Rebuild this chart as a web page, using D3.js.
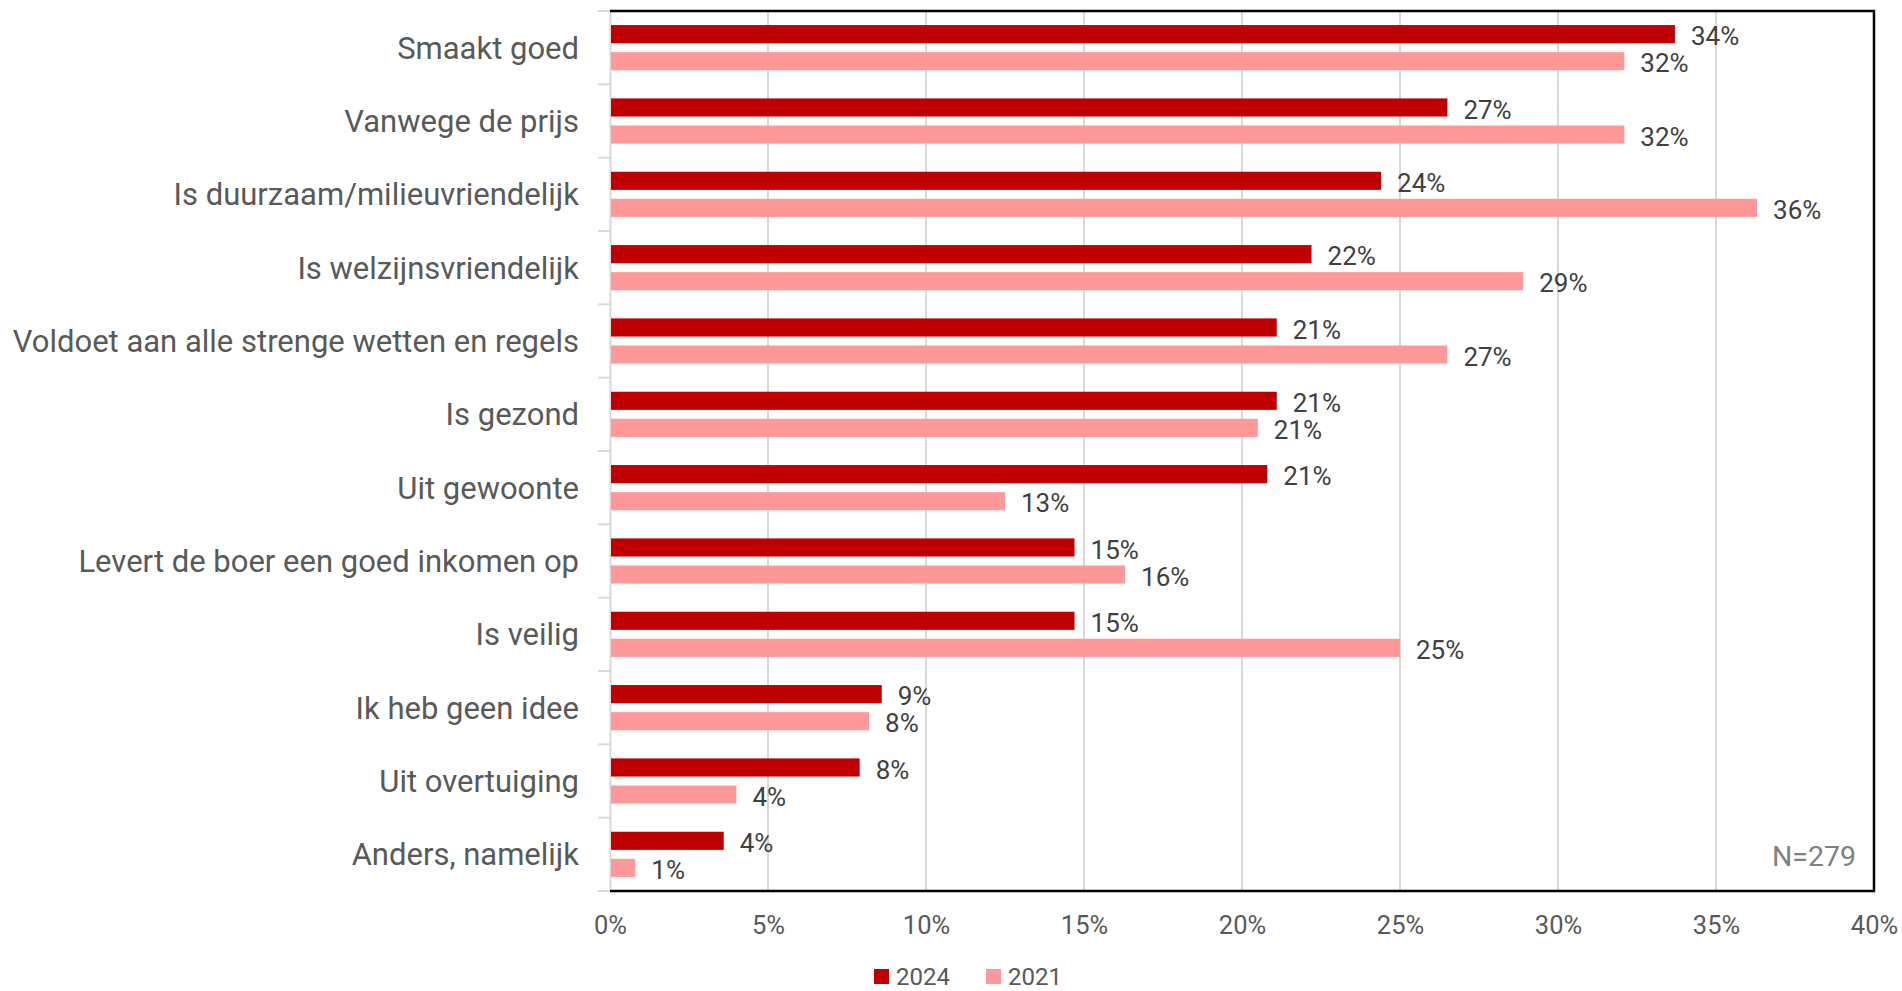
<!DOCTYPE html>
<html>
<head>
<meta charset="utf-8">
<script src="https://cdn.jsdelivr.net/npm/d3@7"></script>
<style>
html,body{margin:0;padding:0;background:#fff;}
svg{display:block;font-family:Roboto, "Noto Sans", sans-serif;}
</style>
</head>
<body>
<svg id="chart" width="1902" height="991"></svg>
<script>
const categories = [
  "Smaakt goed",
  "Vanwege de prijs",
  "Is duurzaam/milieuvriendelijk",
  "Is welzijnsvriendelijk",
  "Voldoet aan alle strenge wetten en regels",
  "Is gezond",
  "Uit gewoonte",
  "Levert de boer een goed inkomen op",
  "Is veilig",
  "Ik heb geen idee",
  "Uit overtuiging",
  "Anders, namelijk"
];
const values2024 = [33.7, 26.5, 24.4, 22.2, 21.1, 21.1, 20.8, 14.7, 14.7, 8.6, 7.9, 3.6];
const values2021 = [32.1, 32.1, 36.3, 28.9, 26.5, 20.5, 12.5, 16.3, 25.0, 8.2, 4.0, 0.8];
const seriesNames = ["2024", "2021"];
const xTicks = [0, 5, 10, 15, 20, 25, 30, 35, 40];
const note = "N=279";

(function () {
const colors = {"2024": "#C00000", "2021": "#FF9999"};

const svg = d3.select("#chart");
const pL = 610, pR = 1874, pT = 11, pB = 891;

const x = d3.scaleLinear().domain([0, 40]).range([pL, pR]);
const y = d3.scaleBand().domain(categories).range([pT, pB]).paddingInner(0).paddingOuter(0);
const inner = d3.scaleBand().domain(seriesNames).range([0, y.bandwidth()]).paddingInner(0.33).paddingOuter(0.52);

// gridlines
svg.append("g").selectAll("line").data(xTicks.filter(d => d > 0 && d < 40)).join("line")
  .attr("x1", d => x(d)).attr("x2", d => x(d))
  .attr("y1", pT).attr("y2", pB)
  .attr("stroke", "#D9D9D9").attr("stroke-width", 2);

// left axis (category)
const yAxis = svg.append("g").attr("transform", `translate(${pL},0)`)
  .call(d3.axisLeft(y).tickSize(0).tickFormat(""));
yAxis.select(".domain").attr("stroke", "#D9D9D9").attr("stroke-width", 2);
// band boundary ticks
svg.append("g").selectAll("line").data(categories.map((c, i) => i).concat([categories.length])).join("line")
  .attr("x1", pL - 12).attr("x2", pL)
  .attr("y1", i => pT + i * y.step()).attr("y2", i => pT + i * y.step())
  .attr("stroke", "#D9D9D9").attr("stroke-width", 2);

// category labels
svg.append("g").selectAll("text").data(categories).join("text")
  .attr("x", pL - 31)
  .attr("y", d => y(d) + y.bandwidth() / 2)
  .attr("dy", "0.35em")
  .attr("text-anchor", "end")
  .attr("font-size", 31)
  .attr("fill", "#595959")
  .text(d => d);

// bars
const rows = categories.map((c, i) => ({c, v: {"2024": values2024[i], "2021": values2021[i]}}));
const groups = svg.append("g").selectAll("g").data(rows).join("g")
  .attr("transform", d => `translate(0,${y(d.c)})`);
groups.selectAll("rect").data(d => seriesNames.map(s => ({s, v: d.v[s]}))).join("rect")
  .attr("x", x(0) + 1)
  .attr("y", d => inner(d.s))
  .attr("width", d => x(d.v) - x(0) - 1)
  .attr("height", inner.bandwidth())
  .attr("fill", d => colors[d.s]);
groups.selectAll("text").data(d => seriesNames.map(s => ({s, v: d.v[s]}))).join("text")
  .attr("x", d => x(d.v) + 16)
  .attr("y", d => inner(d.s) + inner.bandwidth() / 2 + 2)
  .attr("dy", "0.35em")
  .attr("font-size", 26)
  .attr("fill", "#404040")
  .text(d => Math.round(d.v) + "%");

// frame: top, right, bottom black
svg.append("path")
  .attr("d", `M${pL},${pT}H${pR}V${pB}H${pL}`)
  .attr("fill", "none").attr("stroke", "#000").attr("stroke-width", 2.5);

// x axis
const xAxis = svg.append("g").attr("transform", `translate(0,${pB})`)
  .call(d3.axisBottom(x).tickValues(xTicks).tickSize(0).tickPadding(25).tickFormat(d => d + "%"));
xAxis.select(".domain").remove();
xAxis.selectAll("text").attr("font-size", 25.5).attr("fill", "#595959").attr("font-family", "Roboto, sans-serif");

// note
svg.append("text").attr("x", 1856).attr("y", 866)
  .attr("text-anchor", "end").attr("font-size", 28.5).attr("fill", "#808080").text(note);

// legend
const legendPos = [{s: "2024", x: 874}, {s: "2021", x: 986}];
const lg = svg.append("g").selectAll("g").data(legendPos).join("g")
  .attr("transform", d => `translate(${d.x},969)`);
lg.append("rect").attr("width", 15).attr("height", 15).attr("fill", d => colors[d.s]);
lg.append("text").attr("x", 22).attr("y", 15.5).attr("font-size", 24).attr("fill", "#595959").text(d => d.s);
})();
</script>
</body>
</html>
